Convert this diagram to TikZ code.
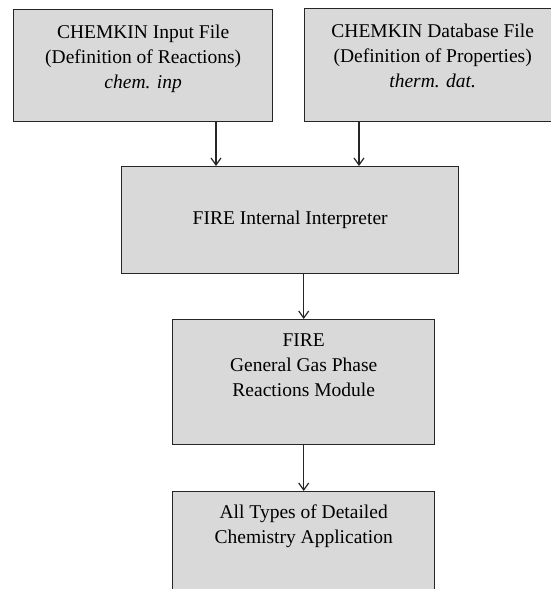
\documentclass[tikz,border=0pt]{standalone}
\usepackage{fontspec}
\setmainfont{Liberation Serif}
\usetikzlibrary{arrows.meta, positioning}
\definecolor{boxgray}{HTML}{D9D9D9}
\definecolor{boxline}{HTML}{262626}

\begin{document}
\begin{tikzpicture}[x=1pt, y=-1pt,
stage_box/.style={draw=boxline, fill=boxgray, line width=1.4pt, anchor=north west, inner sep=0pt, font=\fontsize{19.5}{25}\selectfont},
stage_text/.style={align=center, inner sep=0pt, font=\fontsize{19.5}{25}\selectfont},
flow_arrow/.style={-{Straight Barb[length=7pt, width=10pt]}, line width=1.2pt, draw=boxline}
]
% Fix the page size
    \useasboundingbox (0,0) rectangle (551,589);
    \clip (0,0) rectangle (551,589);

% Draw boxes
    \node[stage_box, minimum width=259pt, minimum height=112pt] (chemin) at (13,9) {};
    \node[stage_box, minimum width=256pt, minimum height=113pt] (chemdb) at (304,8) {};
    \node[stage_box, minimum width=337pt, minimum height=107pt] (interp) at (121,166) {FIRE Internal Interpreter};
    \node[stage_box, minimum width=262pt, minimum height=125pt] (module) at (172,319) {};
    \node[stage_box, minimum width=262pt, minimum height=130pt] (app) at (172,491) {};

% Draw box texts
    \node[stage_text, below=16pt of chemin.north] (chemin_txt) {CHEMKIN Input File\\(Definition of Reactions)\\\textit{chem. inp}};
    \node[stage_text, below=16pt of chemdb.north] (chemdb_txt) {CHEMKIN Database File\\(Definition of Properties)\\\textit{therm. dat.}};
    \node[stage_text, below=15pt of module.north] (module_txt) {FIRE\\General Gas Phase\\Reactions Module};
    \node[stage_text, below=14pt of app.north] (app_txt) {All Types of Detailed\\Chemistry Application};

% Draw arrows
    \coordinate (in_left) at (216,0);
    \coordinate (in_right) at (359,0);
    \draw[flow_arrow] (chemin.south -| in_left) -- (interp.north -| in_left);
    \draw[flow_arrow] (chemdb.south -| in_right) -- (interp.north -| in_right);
    \draw[flow_arrow] (interp.south -| module.north) -- (module.north);
    \draw[flow_arrow] (module.south) -- (app.north);
\end{tikzpicture}
\end{document}
